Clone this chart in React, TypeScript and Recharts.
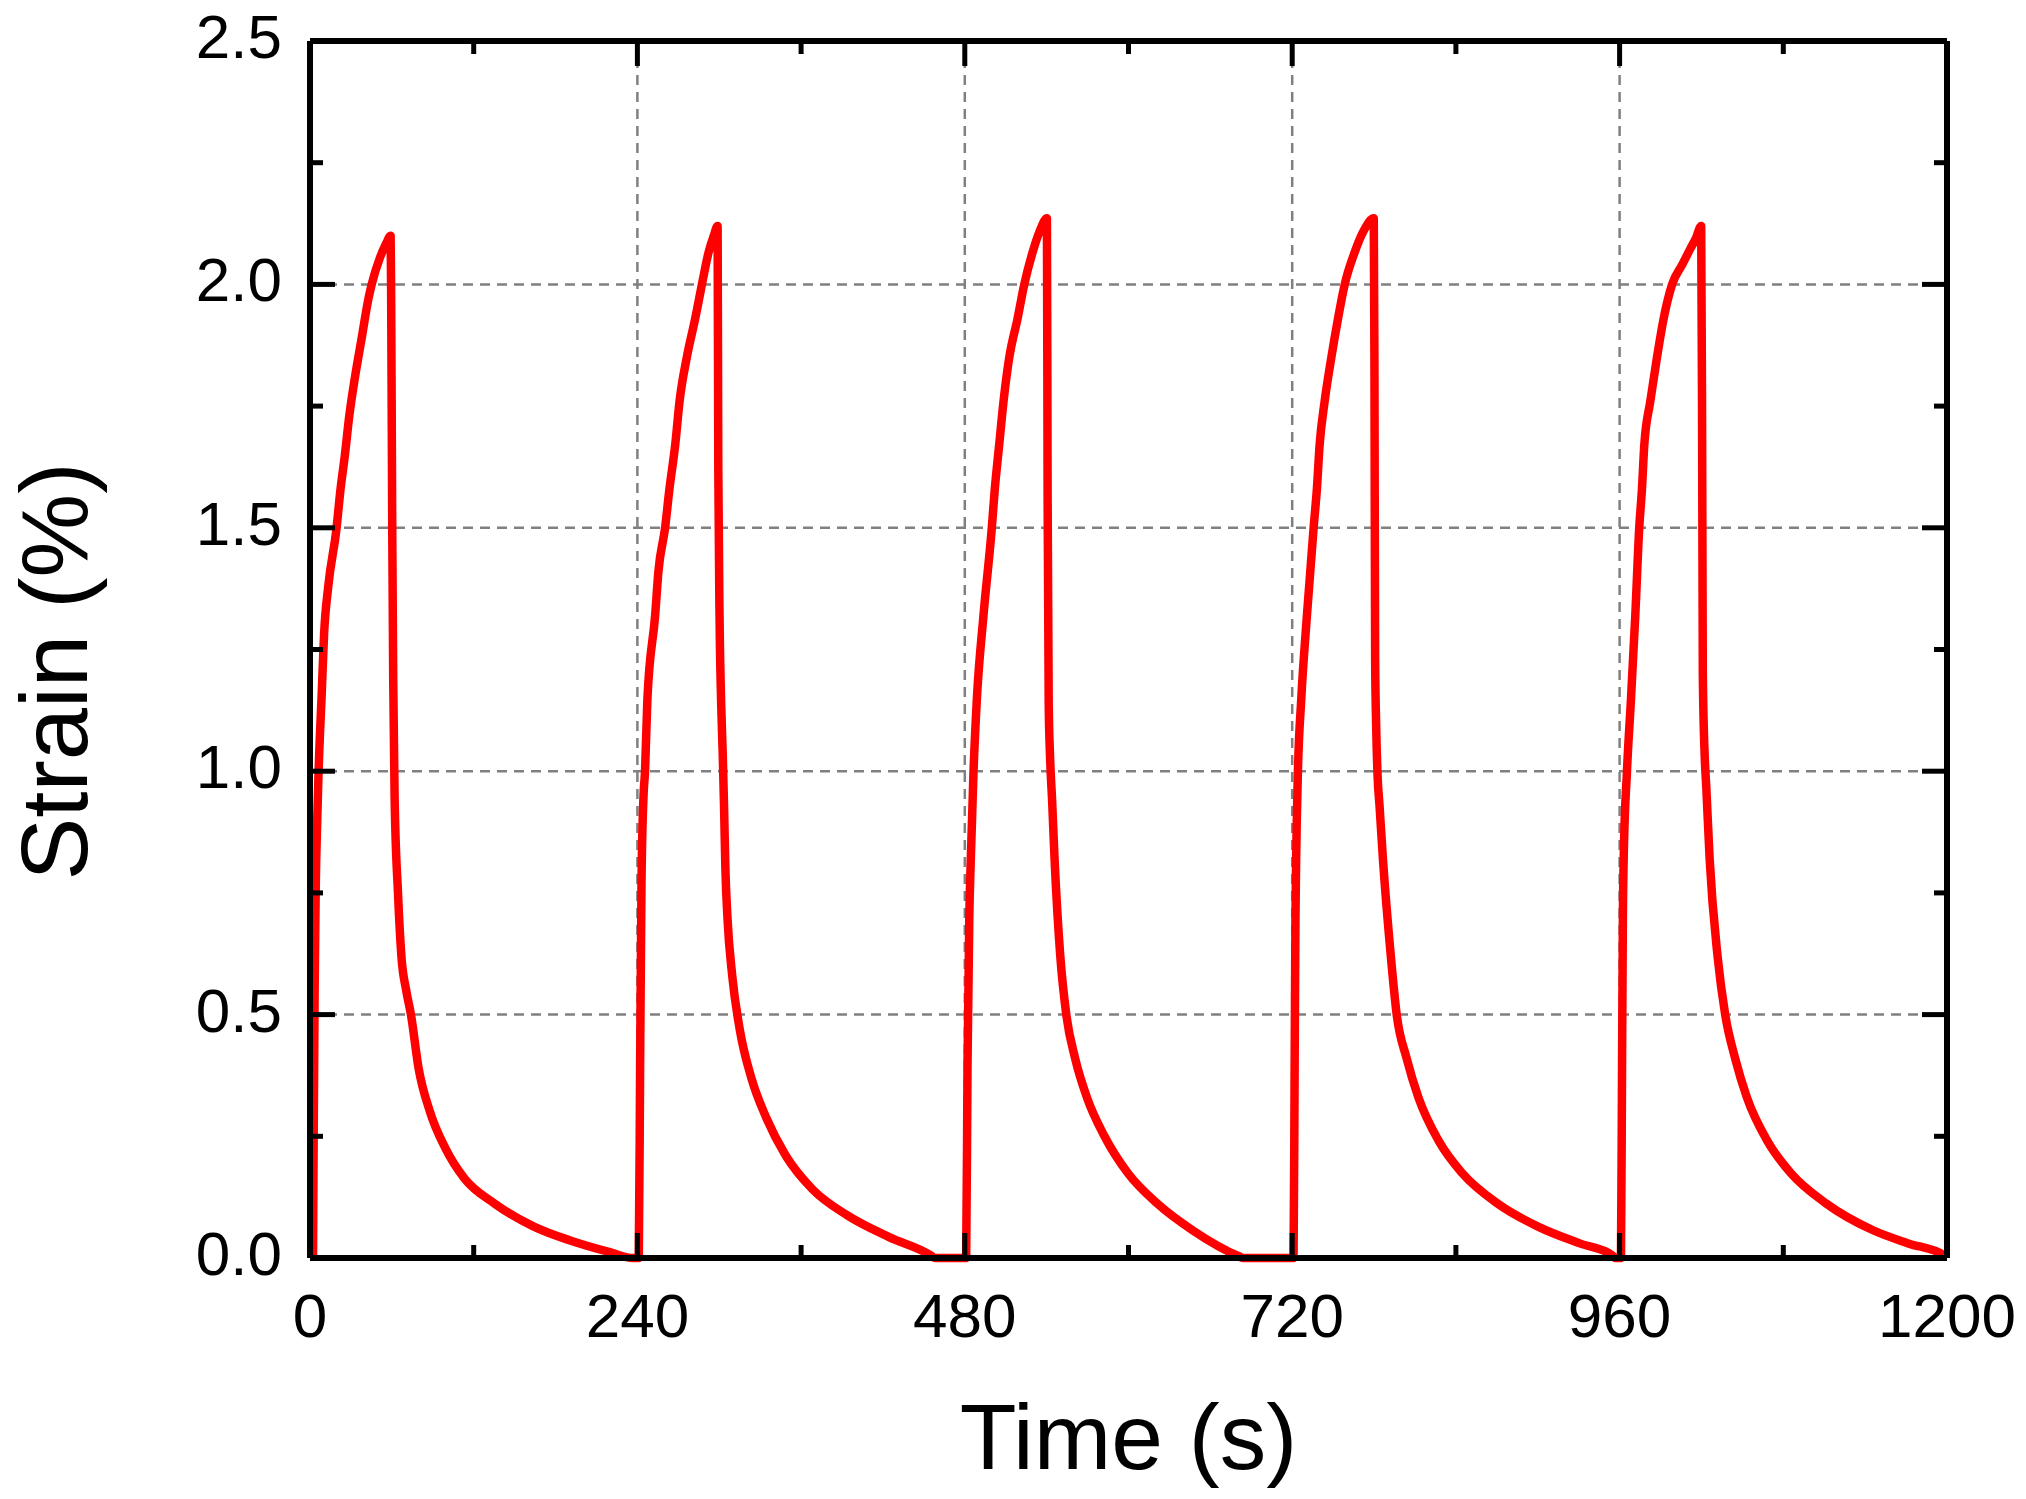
import React from 'react'
import { LineChart, Line, XAxis, YAxis, ReferenceLine } from 'recharts'

// time (s), strain (%) pairs, one array per load cycle
const cycle1: [number, number][] = [
  [2.2, 0], [2.6, 0.2], [3.4, 0.55], [4.2, 0.76], [5.3, 0.9], [6.3, 1.0],
  [8.6, 1.16], [10.3, 1.28], [13.4, 1.38], [19.5, 1.5], [22, 1.57], [25.6, 1.65],
  [28.8, 1.73], [33, 1.81], [37.9, 1.89], [42.8, 1.97], [45.2, 2.0], [51.3, 2.055],
  [56, 2.085], [59.1, 2.1], [59.5, 1.97], [60.3, 1.49], [61, 1.19], [62, 0.95],
  [64.5, 0.75], [67, 0.62], [70.5, 0.55], [74, 0.5], [79.6, 0.39], [88, 0.3],
  [99.3, 0.225], [113, 0.164], [135.7, 0.111], [163.7, 0.065], [191.8, 0.035],
  [219.8, 0.012], [236.6, 0],
]

const cycle2: [number, number][] = [
  [241, 0], [242, 0.4], [243, 0.77], [244.5, 0.95], [245.6, 1.0], [247.3, 1.146],
  [253, 1.32], [255.4, 1.41], [260.3, 1.5], [263.5, 1.58], [267.7, 1.67], [270.9, 1.76],
  [276.2, 1.85], [282.4, 1.93], [287.3, 2.0], [292.2, 2.066], [296, 2.1], [298.8, 2.12],
  [299.3, 1.62], [300.3, 1.3], [301.5, 1.13], [302.5, 1.04], [303.5, 0.93], [304.5, 0.8],
  [306, 0.7], [309.5, 0.58], [315, 0.47], [323.5, 0.37], [334.8, 0.286], [348.8, 0.21],
  [368.4, 0.141], [393.6, 0.088], [424.5, 0.043], [455.3, 0.005], [458, 0],
]

const cycle3: [number, number][] = [
  [481, 0], [482, 0.4], [483.3, 0.7], [484.4, 0.82], [486.4, 1.0], [488.8, 1.146],
  [493.7, 1.32], [499.8, 1.5], [502, 1.58], [505.2, 1.67], [508.4, 1.76], [512.6, 1.85],
  [518.7, 1.93], [523.6, 2.0], [529.7, 2.066], [535, 2.11], [540.2, 2.136], [540.7, 1.57],
  [541.5, 1.14], [542.5, 1.03], [544, 0.94], [545.8, 0.82], [550, 0.62], [554.4, 0.5],
  [560.9, 0.41], [569.5, 0.33], [582.4, 0.25], [599.6, 0.174], [621, 0.112],
  [646.9, 0.057], [681.3, 0.003], [684, 0],
]

const cycle4: [number, number][] = [
  [721, 0], [721.8, 0.4], [722.4, 0.7], [722.9, 0.82], [724.2, 1.0], [726.6, 1.146],
  [730.8, 1.32], [735.7, 1.5], [738.1, 1.58], [740.1, 1.67], [743.8, 1.76], [748.7, 1.85],
  [753.6, 1.93], [758.5, 2.0], [765.8, 2.066], [772.4, 2.11], [779.8, 2.136], [780.3, 1.82],
  [780.8, 1.23], [781.5, 1.1], [782.6, 0.99], [784, 0.93], [786.5, 0.82], [792.3, 0.62],
  [796.6, 0.5], [803.9, 0.41], [812.5, 0.33], [827.5, 0.24], [844.7, 0.174],
  [870.5, 0.112], [900.6, 0.064], [930.8, 0.03], [954.4, 0.006], [957, 0],
]

const cycle5: [number, number][] = [
  [961, 0], [961.8, 0.4], [962.4, 0.7], [963, 0.82], [965.4, 1.0], [968.3, 1.146],
  [971.5, 1.32], [974.4, 1.5], [976.4, 1.58], [978.1, 1.67], [982.5, 1.76], [987.4, 1.85],
  [992.3, 1.93], [998.5, 2.0], [1005.8, 2.04], [1012, 2.074], [1016, 2.095], [1019.8, 2.12],
  [1020.5, 1.69], [1021, 1.2], [1022.4, 1.03], [1023.5, 0.97], [1026, 0.82], [1031.8, 0.62],
  [1037.4, 0.5], [1044.7, 0.41], [1053.3, 0.33], [1068.4, 0.24], [1085.6, 0.174],
  [1111.4, 0.112], [1145.8, 0.057], [1171.6, 0.03], [1197.4, 0.006], [1200, 0],
]

const timeMajor = [0, 240, 480, 720, 960, 1200]
const timeMinor = [120, 360, 600, 840, 1080]
const strainMajor = [0, 0.5, 1.0, 1.5, 2.0, 2.5]
const strainMinor = [0.25, 0.75, 1.25, 1.75, 2.25]
const timeGrid = [240, 480, 720, 960]
const strainGrid = [0.5, 1.0, 1.5, 2.0]

const data = [cycle1, cycle2, cycle3, cycle4, cycle5]
  .flat()
  .map(([t, s]) => ({ t, s }))

const FONT = '"Liberation Sans", Arial, Helvetica, sans-serif'
const MAJOR_LEN = 25
const MINOR_LEN = 13

type Side = 'bottom' | 'top' | 'left' | 'right'

// inward tick marks (major + minor), labels only on bottom / left
function frameTick(side: Side) {
  return (props: any) => {
    const { x, y, payload } = props
    const v = payload.value as number
    const horizontal = side === 'bottom' || side === 'top'
    const major = horizontal ? timeMajor.includes(v) : strainMajor.includes(v)
    const len = major ? MAJOR_LEN : MINOR_LEN
    let x2 = x
    let y2 = y
    if (side === 'bottom') y2 = y - len
    if (side === 'top') y2 = y + len
    if (side === 'left') x2 = x + len
    if (side === 'right') x2 = x - len
    return (
      <g>
        <line x1={x} y1={y} x2={x2} y2={y2} stroke="#000" strokeWidth={5} />
        {major && side === 'bottom' && (
          <text x={x} y={y + 79} textAnchor="middle" fontSize={62} fontFamily={FONT} fill="#000">
            {v}
          </text>
        )}
        {major && side === 'left' && (
          <text x={x - 28} y={y + 17} textAnchor="end" fontSize={62} fontFamily={FONT} fill="#000">
            {v.toFixed(1)}
          </text>
        )}
      </g>
    )
  }
}

const timeTicks = [...timeMajor, ...timeMinor].sort((a, b) => a - b)
const strainTicks = [...strainMajor, ...strainMinor].sort((a, b) => a - b)

const frameLine = { stroke: '#000', strokeWidth: 6 }

export default function App() {
  return (
    <div style={{ position: 'absolute', left: 0, top: 0, width: 2026, height: 1499, background: '#fff' }}>
      <LineChart
        width={2026}
        height={1499}
        data={data}
        margin={{ top: 40, right: 78, bottom: 240, left: 309 }}
      >
        {timeGrid.map(v => (
          <ReferenceLine key={`gx${v}`} x={v} stroke="#808080" strokeWidth={2.5} strokeDasharray="10 7" />
        ))}
        {strainGrid.map(v => (
          <ReferenceLine key={`gy${v}`} y={v} stroke="#808080" strokeWidth={2.5} strokeDasharray="10 7" />
        ))}

        <Line
          type="monotoneX"
          dataKey="s"
          stroke="#ff0000"
          strokeWidth={8.5}
          strokeLinejoin="round"
          dot={false}
          activeDot={false}
          isAnimationActive={false}
        />

        <XAxis
          dataKey="t"
          type="number"
          domain={[0, 1200]}
          ticks={timeTicks}
          interval={0}
          height={1}
          tickSize={0}
          tickMargin={0}
          tickLine={false}
          axisLine={frameLine}
          tick={frameTick('bottom')}
          label={{
            content: (p: any) => (
              <text
                x={p.viewBox.x + p.viewBox.width / 2}
                y={p.viewBox.y + 211}
                textAnchor="middle"
                fontSize={93}
                fontFamily={FONT}
                fill="#000"
              >
                Time (s)
              </text>
            ),
          }}
        />
        <XAxis
          xAxisId="top"
          orientation="top"
          dataKey="t"
          type="number"
          domain={[0, 1200]}
          allowDataOverflow
          ticks={timeTicks}
          interval={0}
          height={1}
          tickSize={0}
          tickMargin={0}
          tickLine={false}
          axisLine={frameLine}
          tick={frameTick('top')}
        />
        <YAxis
          type="number"
          domain={[0, 2.5]}
          ticks={strainTicks}
          interval={0}
          width={1}
          tickSize={0}
          tickMargin={0}
          tickLine={false}
          axisLine={frameLine}
          tick={frameTick('left')}
          label={{
            content: (p: any) => {
              const cx = p.viewBox.x - 222
              const cy = p.viewBox.y + p.viewBox.height / 2 + 22
              return (
                <text
                  x={cx}
                  y={cy}
                  transform={`rotate(-90 ${cx} ${cy})`}
                  textAnchor="middle"
                  fontSize={94}
                  fontFamily={FONT}
                  fill="#000"
                >
                  Strain (%)
                </text>
              )
            },
          }}
        />
        <YAxis
          yAxisId="right"
          orientation="right"
          type="number"
          domain={[0, 2.5]}
          allowDataOverflow
          ticks={strainTicks}
          interval={0}
          width={1}
          tickSize={0}
          tickMargin={0}
          tickLine={false}
          axisLine={frameLine}
          tick={frameTick('right')}
        />
      </LineChart>
    </div>
  )
}
